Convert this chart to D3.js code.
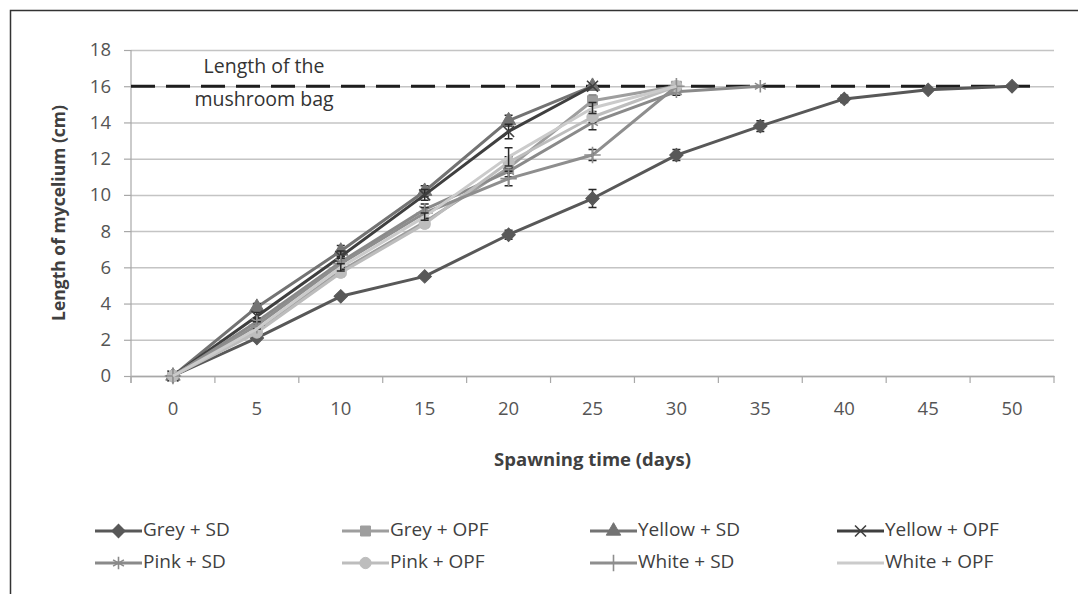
<!DOCTYPE html>
<html>
<head>
<meta charset="utf-8">
<script src="https://cdn.jsdelivr.net/npm/d3@7"></script>
<style>
  body { margin: 0; background: white; }
  text { font-family: "Open Sans", sans-serif; }
</style>
</head>
<body>
<div id="chart-area"></div>
<script>
// spawning days (categories) and y ticks
const days = [0, 5, 10, 15, 20, 25, 30, 35, 40, 45, 50]
const yTicks = [0, 2, 4, 6, 8, 10, 12, 14, 16, 18]
const bagLength = 16

// series (mean length of mycelium, cm) and their SD
const seriesNames = ["Grey + SD", "Grey + OPF", "Yellow + SD", "Yellow + OPF",
    "Pink + SD", "Pink + OPF", "White + SD", "White + OPF"]
const greySD = [0, 2.1, 4.4, 5.5, 7.8, 9.8, 12.2, 13.8, 15.3, 15.8, 16.0]
const greyOPF = [0, 2.5, 5.8, 8.5, 11.5, 15.2, 16.0]
const yellowSD = [0, 3.8, 6.9, 10.2, 14.1, 16.0]
const yellowOPF = [0, 3.3, 6.6, 10.0, 13.5, 16.0]
const pinkSD = [0, 3.0, 6.3, 9.2, 11.3, 14.0, 15.7, 16.0]
const pinkOPF = [0, 2.4, 5.7, 8.4, 11.8, 14.3, 16.0]
const whiteSD = [0, 2.8, 6.2, 9.0, 10.9, 12.2, 16.0]
const whiteOPF = [0, 2.6, 6.0, 8.8, 12.1, 14.8, 16.0]

const greySDErr = [0, 0.1, 0.15, 0.15, 0.25, 0.5, 0.3, 0.3, 0.2, 0.1, 0.1]
const greyOPFErr = [0, 0.1, 0.2, 0.2, 0.3, 0.3, 0.1]
const yellowSDErr = [0, 0.2, 0.3, 0.3, 0.3, 0.1]
const yellowOPFErr = [0, 0.2, 0.3, 0.3, 0.4, 0.1]
const pinkSDErr = [0, 0.2, 0.3, 0.3, 0.3, 0.4, 0.2, 0.1]
const pinkOPFErr = [0, 0.1, 0.2, 0.2, 0.3, 0.3, 0.1]
const whiteSDErr = [0, 0.2, 0.3, 0.3, 0.4, 0.3, 0.1]
const whiteOPFErr = [0, 0.1, 0.2, 0.2, 0.5, 0.3, 0.1]

const seriesValues = [greySD, greyOPF, yellowSD, yellowOPF, pinkSD, pinkOPF, whiteSD, whiteOPF]
const seriesErrors = [greySDErr, greyOPFErr, yellowSDErr, yellowOPFErr, pinkSDErr, pinkOPFErr, whiteSDErr, whiteOPFErr]

// looks (diamond = square turned 45 degrees, like Excel)
const colors = ["#585858", "#9e9e9e", "#737373", "#3f3f3f", "#8a8a8a", "#bdbdbd", "#8e8e8e", "#cbcbcb"]
const markers = [d3.symbolSquare, d3.symbolSquare, d3.symbolTriangle, d3.symbolX,
    d3.symbolAsterisk, d3.symbolCircle, d3.symbolPlus, null]
const markerRotate = [45, 0, 0, 0, 0, 0, 0, 0]
const markerSize = [90, 100, 90, 80, 110, 100, 90, 0]
const strokeMarker = [false, false, false, true, true, false, true, false]

const margin = {left: 131, right: 24, top: 50, bottom: 218}
const svgW = 1078, svgH = 594
const width = svgW - margin.left - margin.right,
    height = svgH - margin.top - margin.bottom

const svg = d3.select("#chart-area").append("svg")
    .attr("width", svgW)
    .attr("height", svgH)
    .attr("style", "background: white; display: block")

// outer frame (only left and top visible)
svg.append("rect")
    .attr("x", 10.5).attr("y", 10.5)
    .attr("width", svgW + 20).attr("height", svgH + 20)
    .attr("fill", "none")
    .attr("stroke", "#333")
    .attr("stroke-width", 1.5)

const g = svg.append("g")
    .attr("transform", `translate(${margin.left}, ${margin.top})`)

const x = d3.scaleBand()
    .domain(days)
    .range([0, width])
    .paddingInner(0).paddingOuter(0)

const cx = d => x(d) + x.bandwidth() / 2

const y = d3.scaleLinear()
    .domain([0, 18])
    .range([height, 0])

// gridlines
g.append("g")
    .attr("class", "grid")
    .call(d3.axisLeft(y).tickValues(yTicks).tickSize(-width).tickFormat(""))
    .call(a => a.select(".domain").remove())
    .selectAll("line")
    .attr("stroke", "#c4c4c4")
    .attr("stroke-width", 1.5)

// Y axis
const yAxis = g.append("g")
    .attr("class", "y axis")
    .call(d3.axisLeft(y).tickValues(yTicks).tickSize(7).tickPadding(13).tickSizeOuter(0))
yAxis.select(".domain").attr("stroke", "#a8a8a8").attr("stroke-width", 1.2)
    .attr("d", `M0,${height + 7}V0`)
yAxis.selectAll("line").attr("stroke", "#a8a8a8").attr("stroke-width", 1.2)
yAxis.selectAll("text")
    .attr("font-size", "18.5px")
    .attr("fill", "#555")
    .style("font-family", "'Open Sans', sans-serif")

// X axis: labels centred in categories, ticks between categories
const xAxis = g.append("g")
    .attr("class", "x axis")
    .attr("transform", `translate(0, ${height})`)
    .call(d3.axisBottom(x).tickSize(0).tickPadding(26))
xAxis.select(".domain").attr("stroke", "#a8a8a8").attr("stroke-width", 1.5)
xAxis.selectAll("text")
    .attr("font-size", "18.5px")
    .attr("fill", "#555")
    .style("font-family", "'Open Sans', sans-serif")

const boundaries = days.map(d => x(d)).concat([width])
xAxis.selectAll(".boundary")
    .data(boundaries)
    .join("line")
    .attr("class", "boundary")
    .attr("x1", d => d).attr("x2", d => d)
    .attr("y1", 0).attr("y2", 7)
    .attr("stroke", "#a8a8a8")
    .attr("stroke-width", 1.2)

// X Label
g.append("text")
    .attr("class", "x axis-label")
    .attr("x", width / 2)
    .attr("y", height + 90)
    .attr("font-size", "18.5px")
    .attr("font-weight", "700")
    .attr("text-anchor", "middle")
    .attr("fill", "#404040")
    .text("Spawning time (days)")

// Y Label
g.append("text")
    .attr("class", "y axis-label")
    .attr("x", -(height / 2))
    .attr("y", -66)
    .attr("font-size", "17.5px")
    .attr("font-weight", "700")
    .attr("text-anchor", "middle")
    .attr("fill", "#404040")
    .attr("transform", "rotate(-90)")
    .text("Length of mycelium (cm)")

// bag length reference line
g.append("line")
    .attr("x1", 0)
    .attr("x2", cx(50) + 18)
    .attr("y1", y(bagLength)).attr("y2", y(bagLength))
    .attr("stroke", "#1e1e1e")
    .attr("stroke-width", 3)
    .attr("stroke-dasharray", "24,11")

g.append("text")
    .attr("x", 133).attr("y", y(18) + 18)
    .attr("font-size", "19.5px")
    .attr("fill", "#333")
    .attr("text-anchor", "middle")
    .attr("dominant-baseline", "middle")
    .text("Length of the")
g.append("text")
    .attr("x", 133).attr("y", y(bagLength) + 15)
    .attr("font-size", "19.5px")
    .attr("fill", "#333")
    .attr("text-anchor", "middle")
    .attr("dominant-baseline", "middle")
    .text("mushroom bag")

const line = d3.line()
    .x((d, i) => cx(days[i]))
    .y(d => y(d))

const drawMarker = (sel, i) => {
    if (!markers[i]) return
    const sym = d3.symbol().type(markers[i]).size(markerSize[i])
    sel.attr("d", sym)
        .attr("fill", strokeMarker[i] ? "none" : colors[i])
        .attr("stroke", colors[i])
        .attr("stroke-width", strokeMarker[i] ? 1.6 : 1)
}

seriesValues.forEach((vals, i) => {
    const sg = g.append("g").attr("class", "series")

    sg.append("path")
        .datum(vals)
        .attr("fill", "none")
        .attr("stroke", colors[i])
        .attr("stroke-width", 3)
        .attr("stroke-linejoin", "round")
        .attr("d", line)

    // error bars
    const errs = seriesErrors[i]
    sg.selectAll(".err")
        .data(vals.map((v, j) => ({v: v, e: errs[j], d: days[j]})).filter(p => p.e > 0.15))
        .join("path")
        .attr("class", "err")
        .attr("fill", "none")
        .attr("stroke", "#2a2a2a")
        .attr("stroke-width", 1.5)
        .attr("d", p => {
            const px = cx(p.d), y0 = y(p.v - p.e), y1 = y(p.v + p.e)
            return `M${px - 4},${y0}H${px + 4}M${px},${y0}V${y1}M${px - 4},${y1}H${px + 4}`
        })

    if (markers[i]) {
        sg.selectAll(".marker")
            .data(vals)
            .join("path")
            .attr("class", "marker")
            .attr("transform", (d, j) => `translate(${cx(days[j])}, ${y(d)}) rotate(${markerRotate[i]})`)
            .call(sel => drawMarker(sel, i))
    }
})

// legend
const legendCols = [95, 342, 590, 837]
const legendRows = [531, 563]
const legend = svg.append("g").attr("class", "legend")
seriesNames.forEach((name, i) => {
    const lx = legendCols[i % 4], ly = legendRows[Math.floor(i / 4)]
    const item = legend.append("g").attr("transform", `translate(${lx}, ${ly})`)
    item.append("line")
        .attr("x1", 0).attr("x2", 47)
        .attr("stroke", colors[i])
        .attr("stroke-width", 3)
    if (markers[i]) {
        item.append("path")
            .attr("transform", `translate(23.5, 0) rotate(${markerRotate[i]})`)
            .call(sel => drawMarker(sel, i))
    }
    item.append("text")
        .attr("x", 48)
        .attr("dominant-baseline", "middle")
        .attr("font-size", "19px")
        .attr("fill", "#404040")
        .text(name)
})
</script>
</body>
</html>
